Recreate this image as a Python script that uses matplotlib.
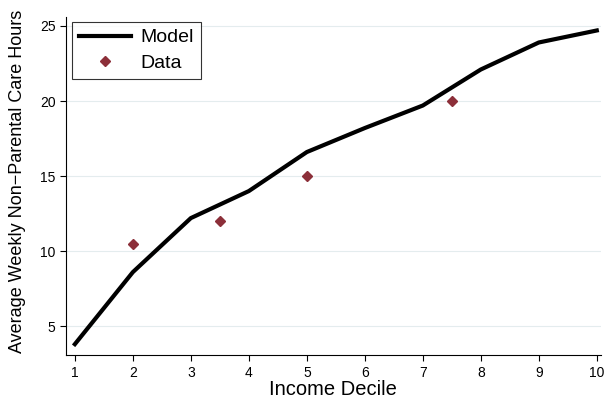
import matplotlib
matplotlib.use('Agg')
import matplotlib.pyplot as plt

deciles = [1, 2, 3, 4, 5, 6, 7, 8, 9, 10]
model_hours = [3.8, 8.6, 12.2, 14.0, 16.6, 18.2, 19.7, 22.1, 23.9, 24.7]
data_x = [2, 3.5, 5, 7.5]
data_hours = [10.5, 12.0, 15.0, 20.0]

plt.rcParams['font.family'] = ['Liberation Sans', 'DejaVu Sans']

fig = plt.figure(figsize=(6.1, 4.04), dpi=100)
ax = fig.add_axes([0.108, 0.121, 0.877, 0.837])

ax.plot(deciles, model_hours, color='black', linewidth=3, label='Model')
ax.plot(data_x, data_hours, linestyle='none', marker='D', markersize=5.5,
        color='#8c2f39', label='Data')

ax.set_xlim(0.845, 10.07)
ax.set_ylim(3.07, 25.6)
ax.set_xticks(deciles)
ax.set_yticks([5, 10, 15, 20, 25])
ax.tick_params(labelsize=10, direction='out', length=4, width=0.8)
ax.yaxis.grid(True, color='#e4ecee', linewidth=0.8)
ax.set_axisbelow(True)
for side in ['top', 'right']:
    ax.spines[side].set_visible(False)

ax.set_xlabel('Income Decile', fontsize=14.5, labelpad=0)
ax.set_ylabel('Average Weekly Non\u2212Parental Care Hours', fontsize=13)
ax.yaxis.set_label_coords(-0.075, 0.515)

leg = ax.legend(loc='upper left', fontsize=14, frameon=True, fancybox=False,
                edgecolor='black', handlelength=2.7, borderpad=0.35,
                labelspacing=0.4, handletextpad=0.5, borderaxespad=0,
                bbox_to_anchor=(0.011, 0.985))
leg.get_frame().set_linewidth(0.8)

fig.savefig('out.png', dpi=100)
